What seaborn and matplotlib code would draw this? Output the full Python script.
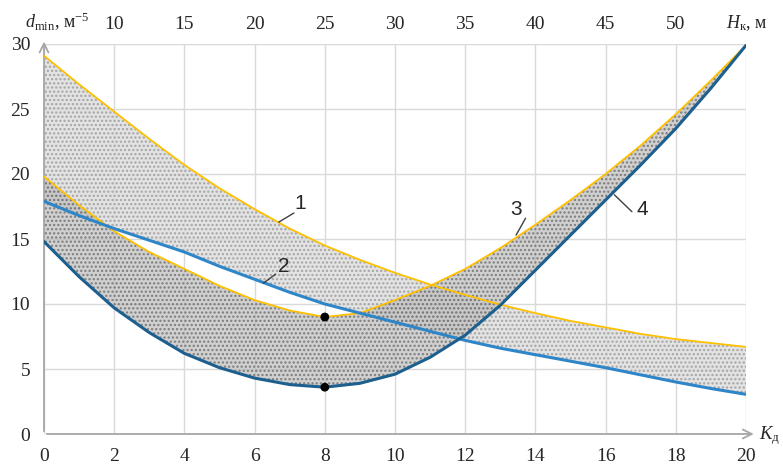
import matplotlib
matplotlib.use("Agg")
import matplotlib.pyplot as plt
import seaborn as sns
import pandas as pd

# K_d values along the bottom axis
k_vals = list(range(0, 21))

# curve 1 - upper orange line
curve1 = [29.1, 26.9, 24.8, 22.7, 20.7, 18.9, 17.3, 15.8, 14.5, 13.4, 12.4,
          11.5, 10.7, 9.95, 9.3, 8.7, 8.2, 7.7, 7.3, 7.0, 6.7]
# curve 2 - light blue line
curve2 = [17.9, 16.8, 15.8, 14.9, 14.0, 12.9, 11.9, 10.9, 10.0, 9.3, 8.6,
          7.9, 7.2, 6.6, 6.1, 5.6, 5.1, 4.55, 4.0, 3.5, 3.05]
# curve 3 - lower orange line (parabola)
curve3 = [19.8, 17.6, 15.6, 14.0, 12.7, 11.4, 10.3, 9.5, 9.0, 9.3, 10.3,
          11.4, 12.7, 14.3, 16.1, 18.0, 20.0, 22.2, 24.6, 27.2, 29.9]
# curve 4 - dark blue line (parabola)
curve4 = [14.8, 12.1, 9.7, 7.8, 6.2, 5.1, 4.3, 3.8, 3.6, 3.9, 4.6,
          5.9, 7.6, 9.9, 12.6, 15.3, 18.0, 20.7, 23.5, 26.6, 29.9]

# minimum points
min_k = [8, 8]
min_d = [9.0, 3.6]

k_ticks = [0, 2, 4, 6, 8, 10, 12, 14, 16, 18, 20]
d_ticks = [0, 5, 10, 15, 20, 25, 30]
h_ticks = [10, 15, 20, 25, 30, 35, 40, 45, 50]

df = pd.DataFrame({"k": k_vals, "c1": curve1, "c2": curve2, "c3": curve3, "c4": curve4})

sns.set_style("white")
plt.rcParams["font.family"] = ["Liberation Serif", "DejaVu Serif"]
plt.rcParams["mathtext.fontset"] = "custom"
plt.rcParams["mathtext.rm"] = "Liberation Serif"
plt.rcParams["mathtext.it"] = "Liberation Serif:italic"
plt.rcParams["hatch.linewidth"] = 1.1

fig = plt.figure(figsize=(7.83, 4.65), dpi=100)
ax = fig.add_axes([44 / 783, 31 / 465, 702 / 783, 390 / 465])

# stippled bands
ax.fill_between(df["k"], df["c2"], df["c1"], facecolor="#dedede",
                edgecolor="#9c9c9c", hatch="....", linewidth=0, alpha=0.85, zorder=1)
ax.fill_between(df["k"], df["c4"], df["c3"], facecolor="#bdbdbd",
                edgecolor="#5e5e5e", hatch="....", linewidth=0, alpha=0.7, zorder=1.5)

sns.lineplot(data=df, x="k", y="c1", ax=ax, color="#FFC000", lw=1.3, zorder=3)
sns.lineplot(data=df, x="k", y="c3", ax=ax, color="#FFC000", lw=1.3, zorder=3)
sns.lineplot(data=df, x="k", y="c2", ax=ax, color="#2E86C8", lw=2.2, zorder=4)
sns.lineplot(data=df, x="k", y="c4", ax=ax, color="#1D5F8E", lw=2.2, zorder=4)
sns.scatterplot(x=min_k, y=min_d, ax=ax, color="black", s=40, zorder=5,
                edgecolor="none")

ax.set_xlim(0, 20)
ax.set_ylim(0, 30)
ax.set_xticks(k_ticks)
ax.set_yticks(d_ticks)
ax.grid(True, color="#d9d9d9", lw=1.0)
ax.set_axisbelow(True)
for s in ax.spines.values():
    s.set_visible(False)
ax.tick_params(axis="x", length=0, pad=10, labelsize=14)
ax.tick_params(axis="y", length=0, pad=10, labelsize=14)
ax.set_xlabel("")
ax.set_ylabel("")

# top axis H_k = 2.5*K + 5
top = ax.secondary_xaxis("top", functions=(lambda k: 2.5 * k + 5, lambda h: (h - 5) / 2.5))
top.set_xticks(h_ticks)
top.tick_params(length=0, pad=8, labelsize=14)
top.spines["top"].set_visible(False)

# axis arrows
arr = dict(arrowstyle="->", color="#a6a6a6", lw=1.3, mutation_scale=16)
ax.annotate("", xy=(20.3, 0), xytext=(0, 0), arrowprops=arr, annotation_clip=False, zorder=2)
ax.annotate("", xy=(0, 30.4), xytext=(0, 0), arrowprops=arr, annotation_clip=False, zorder=2)

# axis titles
fig.text(25 / 783, 1 - 22 / 465, r"$d_{\mathrm{min}}$, м$^{-5}$", fontsize=13,
         ha="left", va="center")
fig.text(726 / 783, 1 - 23 / 465, r"$H_{\mathrm{к}}$, м", fontsize=13,
         ha="left", va="center")
fig.text(780 / 783, 1 - 436 / 465, r"$K_{\mathrm{д}}$", fontsize=13.5,
         ha="right", va="center")

# curve numbers with leaders
labels = [("1", (7.3, 17.7), (7.12, 17.0), (6.69, 16.3)),
          ("2", (6.83, 12.9), (6.6, 12.3), (6.25, 11.6)),
          ("3", (13.45, 17.3), (13.72, 16.6), (13.45, 15.3)),
          ("4", (17.05, 17.3), (16.75, 17.1), (16.25, 18.4))]
for txt, tpos, p0, p1 in labels:
    ax.text(tpos[0], tpos[1], txt, fontsize=15, family="Liberation Sans",
            ha="center", va="center", zorder=6)
    ax.plot([p0[0], p1[0]], [p0[1], p1[1]], color="#404040", lw=1.0, zorder=6)

fig.savefig("out.png", dpi=100)
